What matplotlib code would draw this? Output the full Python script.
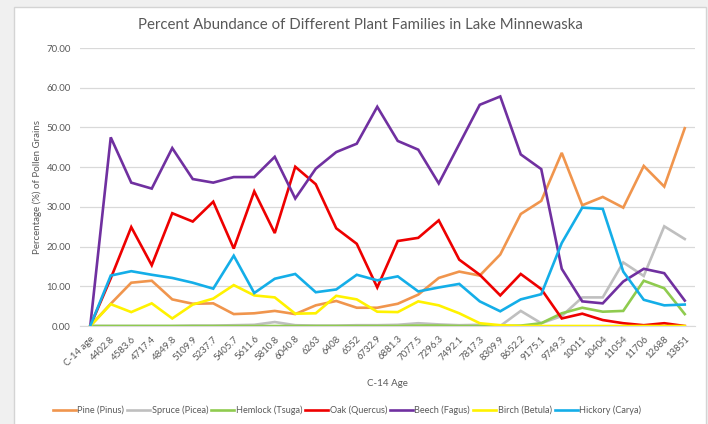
import matplotlib.pyplot as plt
from matplotlib.patches import Rectangle

# ---------------------------------------------------------
# Data
# ---------------------------------------------------------
ages = ["C-14 age", "4402.8", "4583.6", "4717.4", "4849.8", "5109.9", "5237.7",
        "5405.7", "5611.6", "5810.8", "6040.8", "6263", "6408", "6552", "6732.9",
        "6881.3", "7077.5", "7296.3", "7492.1", "7817.3", "8309.9", "8652.2",
        "9175.1", "9749.3", "10011", "10404", "11054", "11706", "12688", "13851"]

pine = [0, 5.6, 10.9, 11.4, 6.7, 5.6, 5.7, 3.0, 3.2, 3.8, 3.0, 5.2, 6.3, 4.6, 4.6,
        5.6, 7.9, 12.1, 13.7, 12.7, 18.0, 28.2, 31.5, 43.6, 30.4, 32.5, 29.8, 40.3, 35.1, 49.8]
spruce = [0, 0, 0, 0, 0, 0.1, 0.1, 0.2, 0.3, 1.0, 0.2, 0.1, 0.1, 0.2, 0.2,
          0.3, 0.7, 0.4, 0.2, 0.3, 0, 3.8, 0.7, 2.5, 7.2, 7.2, 16.0, 12.6, 25.1, 21.9]
hemlock = [0, 0, 0, 0, 0, 0, 0, 0, 0, 0, 0, 0, 0, 0, 0,
           0, 0.1, 0.1, 0, 0, 0, 0.1, 0.7, 3.2, 4.6, 3.6, 3.8, 11.4, 9.5, 3.0]
oak = [0, 12.0, 24.9, 15.3, 28.4, 26.3, 31.3, 19.5, 33.9, 23.4, 40.1, 35.7, 24.6, 20.7, 9.7,
       21.4, 22.2, 26.6, 16.7, 12.9, 7.7, 13.1, 9.3, 1.9, 3.1, 1.5, 0.7, 0.2, 0.7, 0]
beech = [0, 47.5, 36.1, 34.6, 44.8, 37.0, 36.1, 37.5, 37.5, 42.6, 32.1, 39.6, 43.8, 45.9, 55.2,
         46.6, 44.4, 35.9, 45.8, 55.7, 57.8, 43.2, 39.5, 14.4, 6.2, 5.7, 11.2, 14.4, 13.3, 6.4]
birch = [0, 5.5, 3.5, 5.7, 1.9, 5.4, 6.9, 10.3, 7.7, 7.2, 3.1, 3.2, 7.6, 6.7, 3.6,
         3.5, 6.2, 5.2, 3.2, 0.7, 0.2, 0, 0, 0, 0, 0, 0, 0, 0, 0]
hickory = [0, 12.7, 13.8, 12.9, 12.1, 10.9, 9.4, 17.7, 8.3, 11.9, 13.1, 8.5, 9.2, 12.9, 11.5,
           12.5, 8.7, 9.7, 10.6, 6.2, 3.7, 6.7, 8.0, 20.9, 29.8, 29.5, 13.7, 6.6, 5.2, 5.4]

series = [
    ("Pine (Pinus)", pine, "#F0954D"),
    ("Spruce (Picea)", spruce, "#BFBFBF"),
    ("Hemlock (Tsuga)", hemlock, "#8FCB4F"),
    ("Oak (Quercus)", oak, "#EE0000"),
    ("Beech (Fagus)", beech, "#7030A0"),
    ("Birch (Betula)", birch, "#FFF200"),
    ("Hickory (Carya)", hickory, "#14AEE8"),
]

TEXT = "#595959"
plt.rcParams['font.family'] = ['Lato', 'DejaVu Sans']

fig = plt.figure(figsize=(7.08, 4.24), dpi=100)
fig.patch.set_facecolor("#F0F0F0")
# white chart area with thin grey frame, kept behind the axes
fig.patches.append(Rectangle((14 / 708, -0.01), 692 / 708, 1 - 7 / 424 + 0.01,
                             transform=fig.transFigure, facecolor="white",
                             edgecolor="#D4D4D4", linewidth=1.0, zorder=-10))

ax = fig.add_axes([80 / 708, 98 / 424, 615 / 708, 278 / 424])
ax.patch.set_alpha(0)

x = list(range(len(ages)))
for name, vals, color in series:
    ax.plot(x, vals, color=color, lw=1.9, label=name, solid_joinstyle="miter", zorder=3)

ax.set_xlim(-0.5, len(ages) - 0.5)
ax.set_ylim(0, 70)
ax.set_yticks(range(0, 71, 10))
ax.set_yticklabels([f"{v:.2f}" for v in range(0, 71, 10)])
ax.yaxis.grid(True, color="#D9D9D9", lw=0.9)
ax.set_axisbelow(True)
for s in ["top", "right", "left"]:
    ax.spines[s].set_visible(False)
ax.spines["bottom"].set_color("#D9D9D9")
ax.tick_params(axis="both", length=0, colors=TEXT, labelsize=6.9)
ax.tick_params(axis="y", pad=6.5)

ax.set_xticks(x)
ax.set_xticklabels(ages, rotation=45, ha="right", rotation_mode="anchor")
ax.tick_params(axis="x", pad=6)

ax.set_xlabel("C-14 Age", color=TEXT, fontsize=7, labelpad=8)
ax.set_ylabel("Percentage (%) of Pollen Grains", color=TEXT, fontsize=7, labelpad=3)

fig.text(360 / 708, 1 - 25 / 424, "Percent Abundance of Different Plant Families in Lake Minnewaska",
         ha="center", va="center", color=TEXT, fontsize=10.8)

leg = fig.legend(loc="center", bbox_to_anchor=(347 / 708, 1 - 410 / 424), ncol=7,
                 frameon=False, fontsize=6.6, handlelength=2.5, handletextpad=0.15,
                 columnspacing=0.35)
for t in leg.get_texts():
    t.set_color(TEXT)

fig.savefig("out.png", dpi=100, facecolor=fig.get_facecolor())
